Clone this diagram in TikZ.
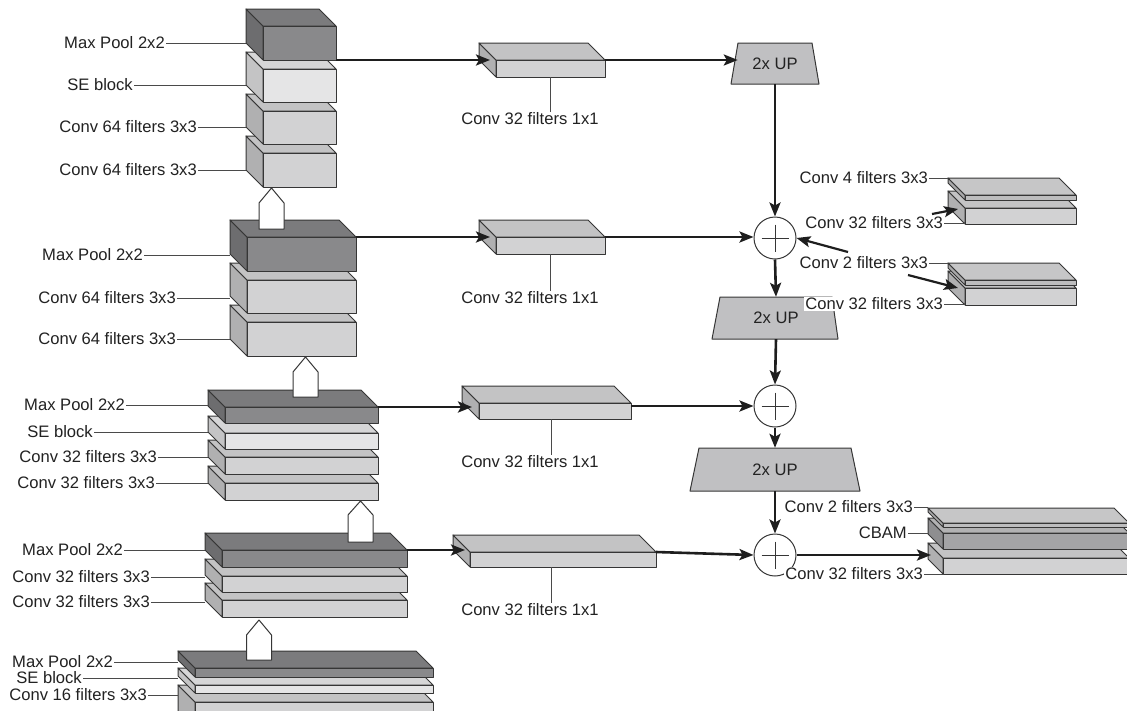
\documentclass[tikz,border=0pt]{standalone}
\usepackage{fontspec}
\setmainfont{Liberation Sans}
\usetikzlibrary{arrows.meta}
\definecolor{edge}{HTML}{363636}
\definecolor{leadc}{HTML}{4A4A4A}
\definecolor{arrc}{HTML}{1E1E1E}
\definecolor{txt}{HTML}{222222}
\definecolor{mpF}{HTML}{89898B}
\definecolor{mpT}{HTML}{7B7B7D}
\definecolor{mpS}{HTML}{6D6D6F}
\definecolor{seF}{HTML}{E5E5E6}
\definecolor{seT}{HTML}{D6D6D7}
\definecolor{seS}{HTML}{C4C4C5}
\definecolor{cvF}{HTML}{D2D2D3}
\definecolor{cvT}{HTML}{C3C3C4}
\definecolor{cvS}{HTML}{B0B0B1}
\definecolor{cbF}{HTML}{A4A4A6}
\definecolor{cbT}{HTML}{B2B2B3}
\definecolor{cbS}{HTML}{8E8E90}
\definecolor{plF}{HTML}{BDBDBE}
\definecolor{plT}{HTML}{C6C6C7}
\definecolor{plS}{HTML}{A9A9AA}
\definecolor{upF}{HTML}{C0C0C2}
\newcommand\lblfont{\fontsize{16.6}{19}\selectfont}
% cuboid: name, x1, y1, x2, y2 (front face), depth, colour prefix
\newcommand\cub[7]{%
  \filldraw[face,fill=#7S] (#2,#3) -- (#2-#6,#3-#6) -- (#2-#6,#5-#6) -- (#2,#5) -- cycle;
  \filldraw[face,fill=#7T] (#2,#3) -- (#2-#6,#3-#6) -- (#4-#6,#3-#6) -- (#4,#3) -- cycle;
  \node[box,fill=#7F,minimum width={#4-#2},minimum height={#5-#3}] (#1) at ({(#2+#4)/2},{(#3+#5)/2}) {};
}
% hollow up arrow: centre x, tip y, shoulder y, base y
\newcommand\uparr[4]{%
  \filldraw[face,fill=white] (#1,#2) -- (#1+12.5,#3) -- (#1+12.5,#4) -- (#1-12.5,#4) -- (#1-12.5,#3) -- cycle;
}
% 2x UP trapezoid: name, top y, bottom y, top x1, top x2, bottom x1, bottom x2
\newcommand\upblk[7]{%
  \filldraw[face,fill=upF] (#4,#2) -- (#5,#2) -- (#7,#3) -- (#6,#3) -- cycle;
  \node[inner sep=0pt,minimum width={#5-#4},minimum height={#3-#2},font=\lblfont,text=txt] (#1) at ({(#4+#5)/2},{(#2+#3)/2}) {2x UP};
}
\tikzset{
  face/.style={draw=edge,line width=1pt,line join=round},
  box/.style={face,inner sep=0pt,outer sep=0pt},
  lab/.style={font=\lblfont,text=txt,fill=white,inner sep=1pt,anchor=east},
  clab/.style={font=\lblfont,text=txt,fill=white,inner sep=1pt},
  lead/.style={draw=leadc,line width=0.9pt},
  arr/.style={draw=arrc,line width=2.6pt,-{Stealth[length=14pt,width=11pt,inset=3pt]}},
  circ/.style={circle,draw=edge,line width=1pt,fill=white,minimum size=42pt,inner sep=0pt},
}
\begin{document}
\begin{tikzpicture}[x=1pt,y=-1pt]
\useasboundingbox (0,0) rectangle (1127,710);
\clip (0,0) rectangle (1127,710);
\fill[white] (0,0) rectangle (1127,710);

% ---------- encoder blocks ----------
\cub{b1c2}{263}{153}{336}{187}{17}{cv}
\cub{b1c1}{263}{111}{336}{144}{17}{cv}
\cub{b1se}{263}{69}{336}{102}{17}{se}
\cub{b1mp}{263}{26}{336}{60}{17}{mp}

\cub{b2c2}{247}{322}{356}{356}{17}{cv}
\cub{b2c1}{247}{280}{356}{313}{17}{cv}
\cub{b2mp}{247}{237}{356}{271}{17}{mp}

\cub{b3c2}{225}{483}{378}{500}{17}{cv}
\cub{b3c1}{225}{457}{378}{474}{17}{cv}
\cub{b3se}{225}{433}{378}{449}{17}{se}
\cub{b3mp}{225}{407}{378}{423}{17}{mp}

\cub{b4c2}{222}{600}{407}{617}{17}{cv}
\cub{b4c1}{222}{576}{407}{592}{17}{cv}
\cub{b4mp}{222}{550}{407}{567}{17}{mp}

\cub{b5c}{195}{702}{433}{730}{17}{cv}
\cub{b5se}{195}{685}{433}{693}{17}{se}
\cub{b5mp}{195}{668}{433}{677}{17}{mp}

% hollow up arrows between blocks
\uparr{271.5}{188}{203}{229}
\uparr{305.5}{357}{372}{397}
\uparr{360.5}{501}{515}{542}
\uparr{259}{620}{635}{660}

% ---------- 1x1 conv boxes ----------
\cub{m1}{496}{60}{605}{77}{17}{cv}
\cub{m2}{496}{237}{605}{254}{17}{cv}
\cub{m3}{479}{403}{631}{419}{17}{cv}
\cub{m4}{470}{552}{656}{567}{17}{cv}

% ---------- right side boxes ----------
\cub{rB}{965}{208}{1076}{224}{17}{cv}
\cub{rA}{965}{195}{1076}{200}{17}{pl}
\cub{rD}{965}{288}{1076}{305}{17}{cv}
\cub{rC}{965}{280}{1076}{285}{17}{pl}

\cub{rG}{943}{558}{1129}{574}{15}{cv}
\cub{rF}{943}{533}{1129}{549}{15}{cb}
\cub{rE}{943}{523}{1129}{527}{15}{pl}

% ---------- decoder ----------
\upblk{u1}{43}{84}{738}{812}{731}{819}
\upblk{u2}{297}{339}{720}{832}{712}{838}
\upblk{u3}{448}{491}{699}{851}{690}{860}

\node[circ] (c1) at (775,238) {};
\node[circ] (c2) at (775,406) {};
\node[circ] (c3) at (775,555) {};
\foreach \c in {c1,c2,c3}{
  \draw[draw=edge,line width=0.7pt] ([yshift=-8pt]\c.north) -- ([yshift=8pt]\c.south);
  \draw[draw=edge,line width=0.7pt] ([xshift=8pt]\c.west) -- ([xshift=-8pt]\c.east);
}

% target coordinates for arrow tips
\coordinate (t1) at (490,0);
\coordinate (t3) at (472,0);
\coordinate (t4) at (465,0);

% ---------- arrows ----------
\draw[arr] (b1mp.south east) -- (b1mp.south east -| t1);
\draw[arr] (m1.north east) -- (m1.north east -| u1.west);
\draw[arr] (u1.south) -- (c1.north);
\draw[arr] (b2mp.north east) -- (b2mp.north east -| t1);
\draw[arr] (m2.north east) -- (m2.north east -| c1.west);
\draw[arr] (c1.south) -- (u2.north);
\draw[arr] (u2.south) -- (c2.north);
\draw[arr] (b3mp.north east) -- (b3mp.north east -| t3);
\draw[arr] (m3.east |- c2.west) -- (c2.west);
\draw[arr] (c2.south) -- (u3.north);
\draw[arr] (u3.south) -- (c3.north);
\draw[arr] (b4mp.north east) -- (b4mp.north east -| t4);
\draw[arr] (m4.north east) -- (c3.west);
\coordinate (tG) at (931,555);
\draw[arr] (c3.east) -- (tG);

% ---------- labels of encoder blocks ----------
\coordinate (s1) at (246,0);
\coordinate (s2) at (230,0);
\coordinate (s3) at (208,0);
\coordinate (s4) at (205,0);
\coordinate (s5) at (178,0);

\node[lab] (l11) at (166,43) {Max Pool 2x2};
\node[lab] (l12) at (134,85) {SE block};
\node[lab] (l13) at (198,127) {Conv 64 filters 3x3};
\node[lab] (l14) at (198,170) {Conv 64 filters 3x3};
\foreach \n in {l11,l12,l13,l14} \draw[lead] (\n.east) -- (\n.east -| s1);

\node[lab] (l21) at (144,255) {Max Pool 2x2};
\node[lab] (l22) at (177,298) {Conv 64 filters 3x3};
\node[lab] (l23) at (177,339) {Conv 64 filters 3x3};
\foreach \n in {l21,l22,l23} \draw[lead] (\n.east) -- (\n.east -| s2);

\node[lab] (l31) at (126,405) {Max Pool 2x2};
\node[lab] (l32) at (94,432) {SE block};
\node[lab] (l33) at (158,457) {Conv 32 filters 3x3};
\node[lab] (l34) at (156,483) {Conv 32 filters 3x3};
\foreach \n in {l31,l32,l33,l34} \draw[lead] (\n.east) -- (\n.east -| s3);

\node[lab] (l41) at (124,550) {Max Pool 2x2};
\node[lab] (l42) at (151,577) {Conv 32 filters 3x3};
\node[lab] (l43) at (151,602) {Conv 32 filters 3x3};
\foreach \n in {l41,l42,l43} \draw[lead] (\n.east) -- (\n.east -| s4);

\node[lab] (l51) at (114,662) {Max Pool 2x2};
\node[lab] (l52) at (83,678) {SE block};
\node[lab] (l53) at (148,695) {Conv 16 filters 3x3};
\foreach \n in {l51,l52,l53} \draw[lead] (\n.east) -- (\n.east -| s5);

% ---------- labels of 1x1 convs ----------
\node[clab] (ml1) at (530,119) {Conv 32 filters 1x1};
\node[clab] (ml2) at (530,298) {Conv 32 filters 1x1};
\node[clab] (ml3) at (530,462) {Conv 32 filters 1x1};
\node[clab] (ml4) at (530,610) {Conv 32 filters 1x1};
\draw[lead] (m1.south) -- (m1.south |- ml1.north);
\draw[lead] (m2.south) -- (m2.south |- ml2.north);
\draw[lead] ([xshift=-4pt]m3.south) -- ([xshift=-4pt]m3.south |- ml3.north);
\draw[lead] ([xshift=-12pt]m4.south) -- ([xshift=-12pt]m4.south |- ml4.north);

% ---------- labels of right boxes ----------
\coordinate (sA) at (948,0);
\coordinate (sE) at (928,0);
\node[lab] (r1) at (929,178) {Conv 4 filters 3x3};
\draw[lead] (r1.east) -- (r1.east -| sA);
\node[lab] (r2) at (944,223) {Conv 32 filters 3x3};
\draw[lead] (r2.east) -- (r2.east -| rB.west);
\node[lab] (r3) at (929,263) {Conv 2 filters 3x3};
\draw[lead] (r3.east) -- (r3.east -| sA);
\node[lab] (r4) at (944,304) {Conv 32 filters 3x3};
\draw[lead] (r4.east) -- (r4.east -| rD.west);

\node[lab] (r5) at (914,507) {Conv 2 filters 3x3};
\draw[lead] (r5.east) -- (r5.east -| sE);
\node[lab] (r6) at (908,533) {CBAM};
\draw[lead] (r6.east) -- (r6.east -| sE);
\node[lab] (r7) at (924,574) {Conv 32 filters 3x3};
\draw[lead] (r7.east) -- (r7.east -| rG.west);

% small arrows among the right boxes
\coordinate (a1s) at (932,214);
\coordinate (a1e) at (958,209);
\draw[arr,line width=2.2pt] (a1s) -- (a1e);
\coordinate (a2s) at (848,252);
\draw[arr,line width=2.2pt] (a2s) -- (c1.east);
\coordinate (a3s) at (908,275);
\coordinate (a3e) at (958,288);
\draw[arr,line width=2.2pt] (a3s) -- (a3e);
\end{tikzpicture}
\end{document}
